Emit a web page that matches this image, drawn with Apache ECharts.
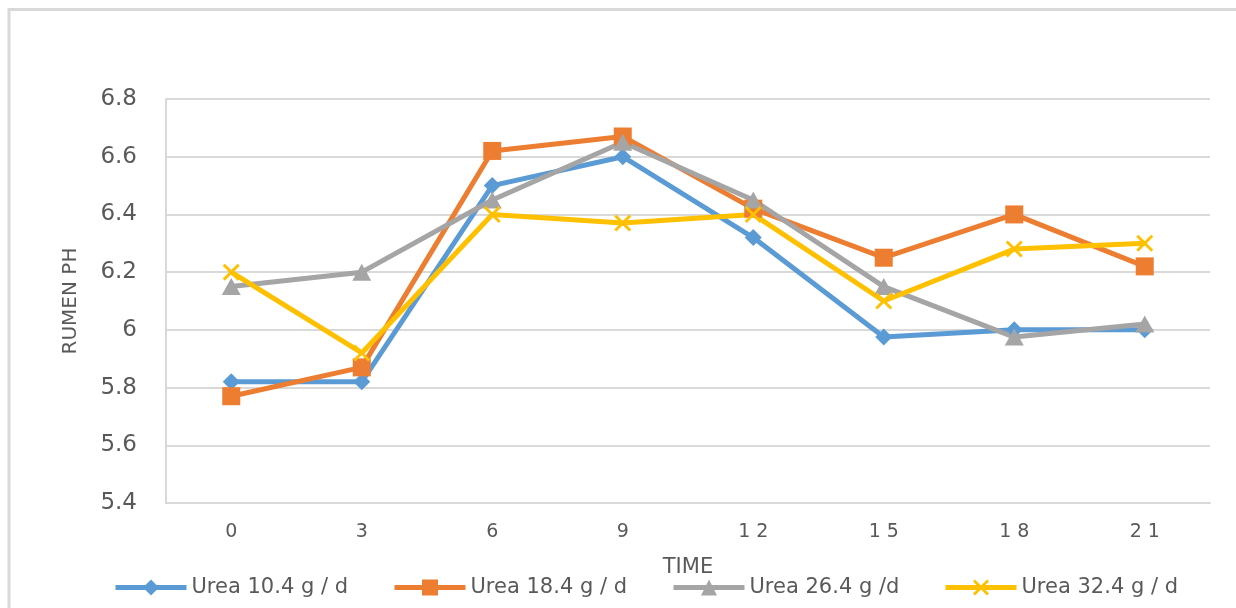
<!DOCTYPE html>
<html>
<head>
<meta charset="utf-8">
<script src="https://cdn.jsdelivr.net/npm/echarts@6/dist/echarts.min.js"></script>
<style>
html,body{margin:0;padding:0;background:#fff;overflow:hidden;}
#chart{width:1236px;height:608px;}
</style>
</head>
<body>
<div id="chart"></div>
<script>
const categories = ['0', '3', '6', '9', '12', '15', '18', '21'];
const urea104 = [5.82, 5.82, 6.50, 6.60, 6.32, 5.975, 6.00, 6.00];
const urea184 = [5.77, 5.87, 6.62, 6.67, 6.42, 6.25, 6.40, 6.22];
const urea264 = [6.15, 6.20, 6.45, 6.65, 6.45, 6.15, 5.975, 6.02];
const urea324 = [6.20, 5.92, 6.40, 6.37, 6.40, 6.10, 6.28, 6.30];
const seriesNames = ['Urea 10.4 g / d', 'Urea 18.4 g / d', 'Urea 26.4 g /d', 'Urea 32.4 g / d'];
const yAxisName = 'RUMEN PH';
const xAxisName = 'TIME';

const font = '"DejaVu Sans", sans-serif';
const textColor = '#595959';
const crossPath = 'path://M0,1.2 L1.2,0 L5,3.8 L8.8,0 L10,1.2 L6.2,5 L10,8.8 L8.8,10 L5,6.2 L1.2,10 L0,8.8 L3.8,5 Z';

const chart = echarts.init(document.getElementById('chart'), null, {renderer: 'canvas'});

function mk(name, data, color, symbol, size) {
  return {
    name: name,
    type: 'line',
    data: data,
    symbol: symbol,
    symbolSize: size,
    showAllSymbol: true,
    lineStyle: {color: color, width: 5},
    itemStyle: {color: color},
    emphasis: {disabled: true},
    animation: false
  };
}

const legendLefts = [113, 392, 671, 943];
const legends = seriesNames.map(function (n, i) {
  return {
    data: [n],
    left: legendLefts[i],
    top: 577,
    padding: 0,
    itemWidth: 71,
    itemHeight: 20,
    lineStyle: {width: 5},
    selectedMode: false,
    textStyle: {fontFamily: font, fontSize: 21, color: textColor}
  };
});

chart.setOption({
  animation: false,
  graphic: [
    {type: 'line', shape: {x1: 8, y1: 9.5, x2: 1236, y2: 9.5}, style: {stroke: '#d9d9d9', lineWidth: 3}, silent: true},
    {type: 'line', shape: {x1: 9, y1: 8, x2: 9, y2: 608}, style: {stroke: '#d9d9d9', lineWidth: 3}, silent: true}
  ],
  grid: {left: 166, right: 26, top: 99, bottom: 105, containLabel: false},
  legend: legends,
  xAxis: {
    type: 'category',
    data: categories,
    boundaryGap: true,
    name: xAxisName,
    nameLocation: 'middle',
    nameGap: 54,
    nameTextStyle: {fontFamily: font, fontSize: 21, color: textColor},
    axisLine: {show: true, lineStyle: {color: '#d9d9d9', width: 2}},
    axisTick: {show: false},
    axisLabel: {fontFamily: font, fontSize: 19, color: textColor, margin: 20,
      formatter: function (v) { return v.split('').join(' '); }}
  },
  yAxis: {
    type: 'value',
    min: 5.4,
    max: 6.8,
    interval: 0.2,
    name: yAxisName,
    nameLocation: 'middle',
    nameGap: 85,
    nameTextStyle: {fontFamily: font, fontSize: 20, color: textColor},
    axisLine: {show: true, lineStyle: {color: '#d9d9d9', width: 2}},
    axisTick: {show: false},
    axisLabel: {fontFamily: font, fontSize: 23, color: textColor, margin: 29,
      formatter: function (v) { return String(parseFloat(v.toFixed(1))); }},
    splitLine: {show: true, lineStyle: {color: '#d9d9d9', width: 2}}
  },
  series: [
    mk(seriesNames[0], urea104, '#5B9BD5', 'diamond', [17, 17]),
    mk(seriesNames[1], urea184, '#ED7D31', 'rect', 18),
    mk(seriesNames[2], urea264, '#A5A5A5', 'triangle', [19, 17]),
    mk(seriesNames[3], urea324, '#FFC000', crossPath, 17)
  ]
});
</script>
</body>
</html>
